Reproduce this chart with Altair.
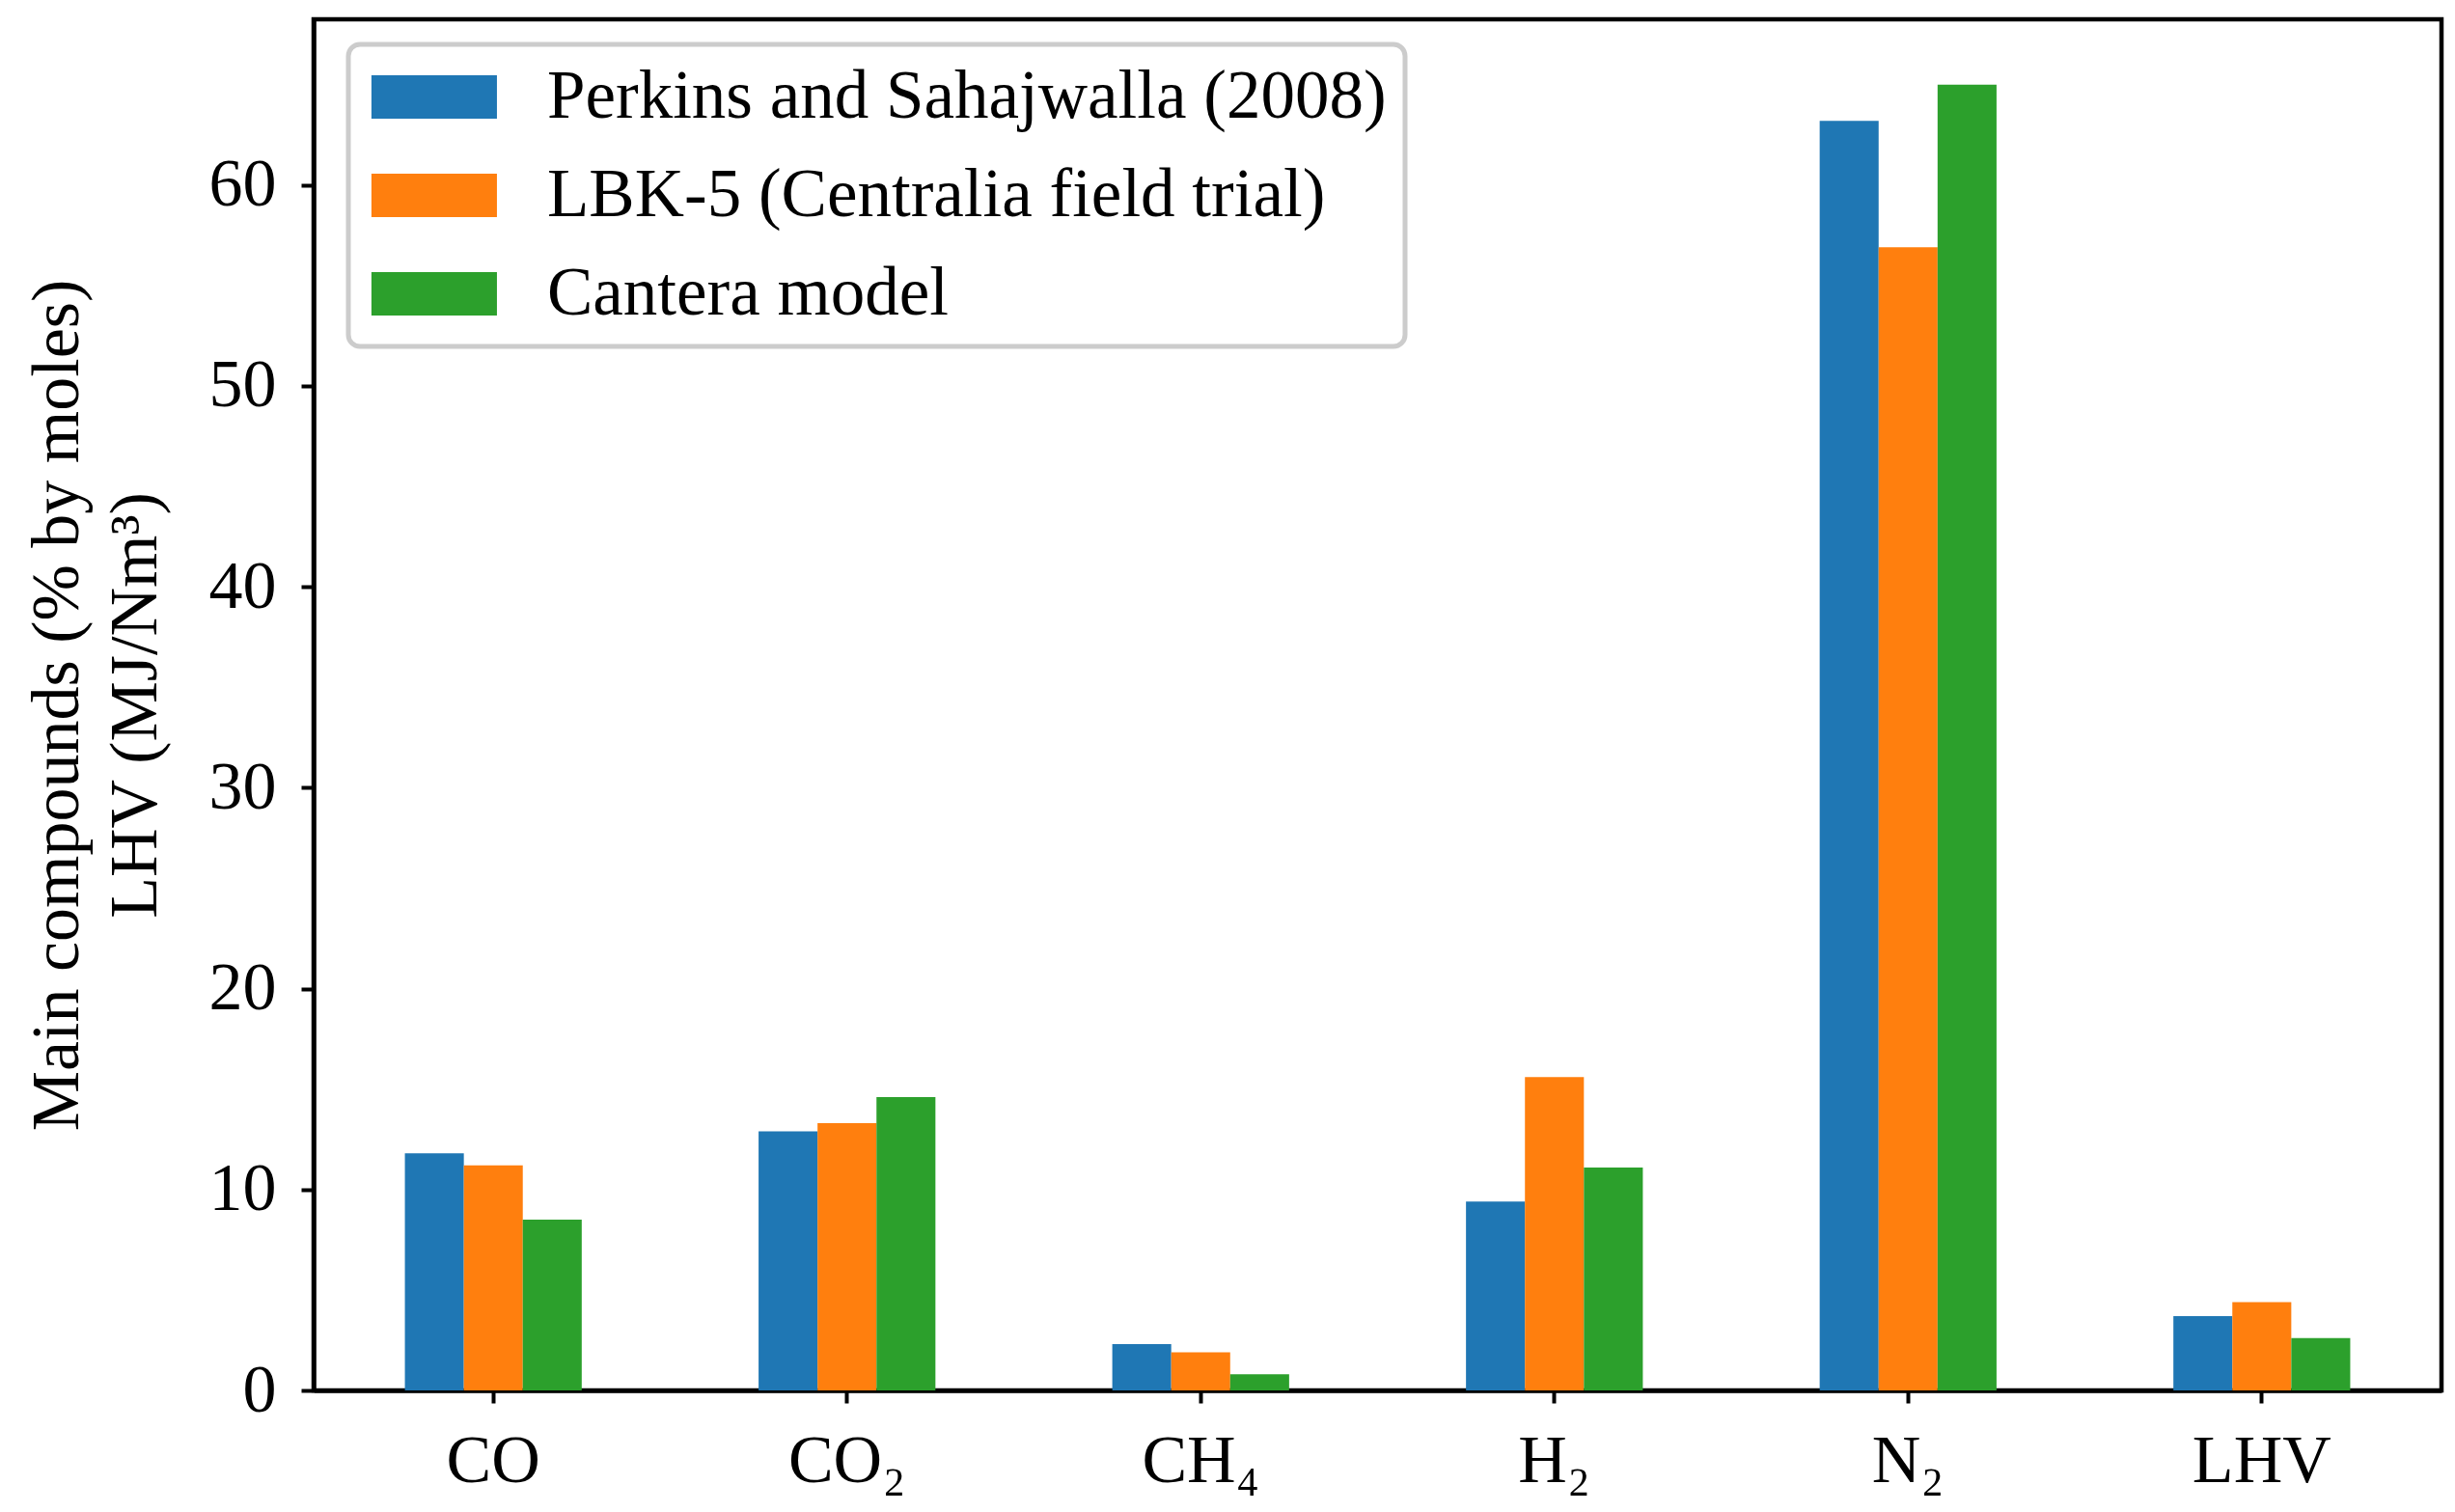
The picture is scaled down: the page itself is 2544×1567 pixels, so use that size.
import altair as alt
import pandas as pd

categories = ["CO", "CO₂", "CH₄", "H₂", "N₂", "LHV"]
series = ["Perkins and Sahajwalla (2008)", "LBK-5 (Centralia field trial)", "Cantera model"]
perkins = [11.8, 12.9, 2.3, 9.4, 63.2, 3.7]
lbk5 = [11.2, 13.3, 1.9, 15.6, 56.9, 4.4]
cantera = [8.5, 14.6, 0.8, 11.1, 65.0, 2.6]
colors = ["#1f77b4", "#ff7f0e", "#2ca02c"]
y_ticks = [0, 10, 20, 30, 40, 50, 60]

rows = []
for s, vals in zip(series, [perkins, lbk5, cantera]):
    for c, v in zip(categories, vals):
        rows.append({"compound": c, "series": s, "value": v})
df = pd.DataFrame(rows)

FONT = "Liberation Serif"
FS = 70

chart = alt.Chart(df).mark_bar().encode(
    x=alt.X("compound:N", sort=categories, title=None,
            scale=alt.Scale(paddingInner=0.5, paddingOuter=0.258),
            axis=alt.Axis(labelAngle=0, labelFont=FONT, labelFontSize=FS, labelColor="black",
                          tickColor="black", tickSize=13, tickWidth=4, labelPadding=26,
                          domainColor="black", domainWidth=4.5)),
    xOffset=alt.XOffset("series:N", sort=series, scale=alt.Scale(paddingInner=0, paddingOuter=0)),
    y=alt.Y("value:Q", scale=alt.Scale(domain=[0, 68.25], nice=False, zero=True),
            title=["Main compounds (% by moles)", "LHV (MJ/Nm³)"],
            axis=alt.Axis(values=y_ticks, grid=False, labelFont=FONT, labelFontSize=FS, labelColor="black",
                          tickColor="black", tickSize=13, tickWidth=4, labelPadding=26,
                          domainColor="black", domainWidth=4.5,
                          titleFont=FONT, titleFontSize=FS, titleFontWeight="normal", titleColor="black",
                          titleLineHeight=81, titlePadding=40)),
    color=alt.Color("series:N", sort=series, scale=alt.Scale(domain=series, range=colors),
                    legend=alt.Legend(title=None, orient="none", legendX=36, legendY=26,
                                      labelFont=FONT, labelFontSize=71, labelColor="black",
                                      labelLimit=3000, labelOffset=116,
                                      symbolType="M-1.36,-1H4.42V1H-1.36Z", symbolSize=2025,
                                      symbolStrokeWidth=0, symbolOpacity=1,
                                      rowPadding=30, padding=19,
                                      strokeColor="#cccccc", cornerRadius=12,
                                      fillColor="white")),
).properties(
    width=2205, height=1421,
    autosize=alt.AutoSizeParams(type="none"),
    padding={"left": 317, "top": 12, "right": 6, "bottom": 118},
).configure_view(stroke="black", strokeWidth=4.5).configure_legend(strokeWidth=5)

chart.save("out.html", embed_options={"renderer": "svg", "actions": False})
